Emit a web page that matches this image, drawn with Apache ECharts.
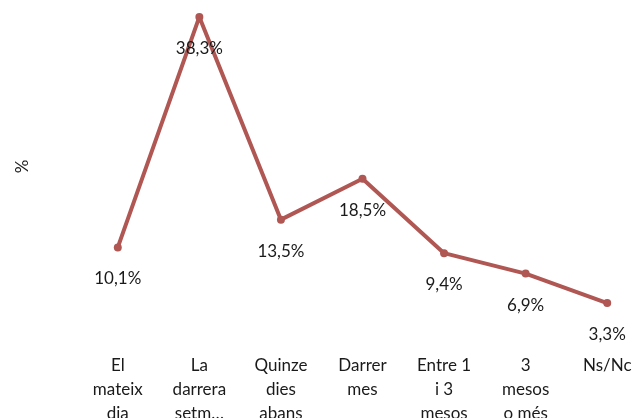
<!DOCTYPE html>
<html>
<head>
<meta charset="utf-8">
<script src="https://cdn.jsdelivr.net/npm/echarts@6/dist/echarts.min.js"></script>
<style>
  html, body { margin: 0; padding: 0; background: #fff; }
  #chart { width: 635px; height: 418px; }
</style>
</head>
<body>
<div id="chart"></div>
<script>
// categories as shown on the axis (wrapped like the original)
var categories = ['El\nmateix\ndia', 'La\ndarrera\nsetm\u2026', 'Quinze\ndies\nabans', 'Darrer\nmes', 'Entre 1\ni 3\nmesos', '3\nmesos\no m\u00e9s', 'Ns/Nc'];
var values = [10.1, 38.3, 13.5, 18.5, 9.4, 6.9, 3.3];

var lineColor = '#B05753';
var font = 'Lato, "Open Sans", sans-serif';

var chart = echarts.init(document.getElementById('chart'));

chart.setOption({
  animation: false,
  grid: { left: 77, right: -13, top: 3, bottom: 88, outerBoundsMode: 'none' },
  xAxis: {
    type: 'category',
    data: categories,
    axisLine: { show: false },
    axisTick: { show: false },
    axisLabel: {
      interval: 0,
      margin: 24,
      color: '#1a1a1a',
      fontFamily: font,
      fontSize: 17,
      lineHeight: 24
    }
  },
  yAxis: {
    type: 'value',
    min: 0,
    max: 40,
    name: '%',
    nameLocation: 'middle',
    nameRotate: 90,
    nameGap: 46,
    nameTextStyle: { color: '#1a1a1a', fontFamily: font, fontSize: 17 },
    axisLine: { show: false },
    axisTick: { show: false },
    axisLabel: { show: false },
    splitLine: { show: false }
  },
  series: [{
    type: 'line',
    data: values,
    symbol: 'circle',
    symbolSize: 8,
    lineStyle: { color: lineColor, width: 4 },
    itemStyle: { color: lineColor },
    label: {
      show: true,
      position: 'bottom',
      distance: 19,
      color: '#1a1a1a',
      fontFamily: font,
      fontSize: 17,
      formatter: function (p) {
        return String(p.value).replace('.', ',') + '%';
      }
    }
  }]
});
</script>
</body>
</html>
